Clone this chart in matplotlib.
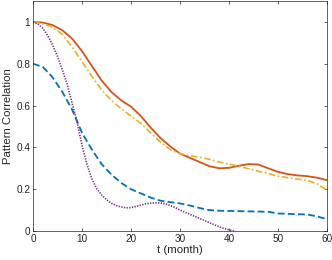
import numpy as np
import matplotlib.pyplot as plt

plt.rcParams['font.family'] = ['Liberation Sans', 'DejaVu Sans']

t = [0, 2, 4, 6, 8, 10, 12, 14, 16, 18, 20, 22, 24, 26, 28, 30,
     32, 34, 36, 38, 40, 42, 44, 46, 48, 50, 52, 54, 56, 58, 60]

corr_solid = [1.0, 0.997, 0.985, 0.96, 0.92, 0.86, 0.79, 0.72, 0.665, 0.625, 0.595,
              0.55, 0.495, 0.445, 0.405, 0.37, 0.35, 0.33, 0.31, 0.30, 0.302, 0.312,
              0.32, 0.318, 0.30, 0.283, 0.272, 0.266, 0.262, 0.255, 0.243]

corr_dashdot = [1.0, 0.992, 0.975, 0.94, 0.88, 0.81, 0.74, 0.675, 0.625, 0.585, 0.55,
                0.515, 0.47, 0.425, 0.39, 0.37, 0.36, 0.353, 0.343, 0.33, 0.32, 0.31,
                0.298, 0.286, 0.275, 0.262, 0.255, 0.248, 0.243, 0.225, 0.195]

corr_dashed = [0.80, 0.785, 0.735, 0.665, 0.58, 0.47, 0.39, 0.32, 0.27, 0.23, 0.20,
               0.18, 0.16, 0.145, 0.138, 0.132, 0.122, 0.11, 0.1, 0.097, 0.096, 0.095,
               0.094, 0.093, 0.092, 0.084, 0.082, 0.08, 0.079, 0.07, 0.056]

t_dot = [0, 1, 2, 3, 4, 5, 6, 7, 8, 9, 10, 11, 12, 13, 14, 15, 16, 17, 18, 19, 20,
         21, 22, 23, 24, 25, 26, 27, 28, 29, 30, 31, 32, 33, 34, 35, 36, 37, 38,
         39, 40, 41, 42]
corr_dot = [1.0, 0.99, 0.97, 0.935, 0.89, 0.835, 0.77, 0.70, 0.61, 0.52, 0.41,
            0.32, 0.25, 0.203, 0.172, 0.15, 0.133, 0.122, 0.115, 0.111, 0.112,
            0.117, 0.124, 0.13, 0.133, 0.135, 0.134, 0.13, 0.122, 0.112, 0.10,
            0.09, 0.08, 0.07, 0.06, 0.05, 0.04, 0.03, 0.02, 0.012, 0.006, 0.0, -0.01]

fig = plt.figure(figsize=(3.32, 2.6), dpi=100)
ax = fig.add_axes([0.0994, 0.1115, 0.8856, 0.8845])

ax.plot(t, corr_solid, color='#D95319', linewidth=1.3, linestyle='-')
ax.plot(t, corr_dashdot, color='#EDB120', linewidth=1.2, linestyle=(0, (4, 1.5, 1, 1.5)))
ax.plot(t, corr_dashed, color='#0072BD', linewidth=1.3, linestyle=(0, (3.8, 1.8)))
ax.plot(t_dot, corr_dot, color='#7E2F8E', linewidth=1.2, linestyle=(0, (0.8, 0.8)))

ax.set_xlim(0, 60)
ax.set_ylim(0, 1.1)
ax.set_xticks([0, 10, 20, 30, 40, 50, 60])
ax.set_yticks([0, 0.2, 0.4, 0.6, 0.8, 1.0])
ax.set_yticklabels(['0', '0.2', '0.4', '0.6', '0.8', '1'])
ax.tick_params(direction='in', length=2.5, width=0.5, labelsize=7.2, colors='#262626',
               top=True, right=True, pad=2)
for s in ax.spines.values():
    s.set_linewidth(0.5)
    s.set_color('#262626')

ax.set_xlabel('t (month)', fontsize=8.2, color='#262626', labelpad=1)
ax.set_ylabel('Pattern Correlation', fontsize=8.2, color='#262626', labelpad=2)

fig.savefig('out.png', dpi=100)
